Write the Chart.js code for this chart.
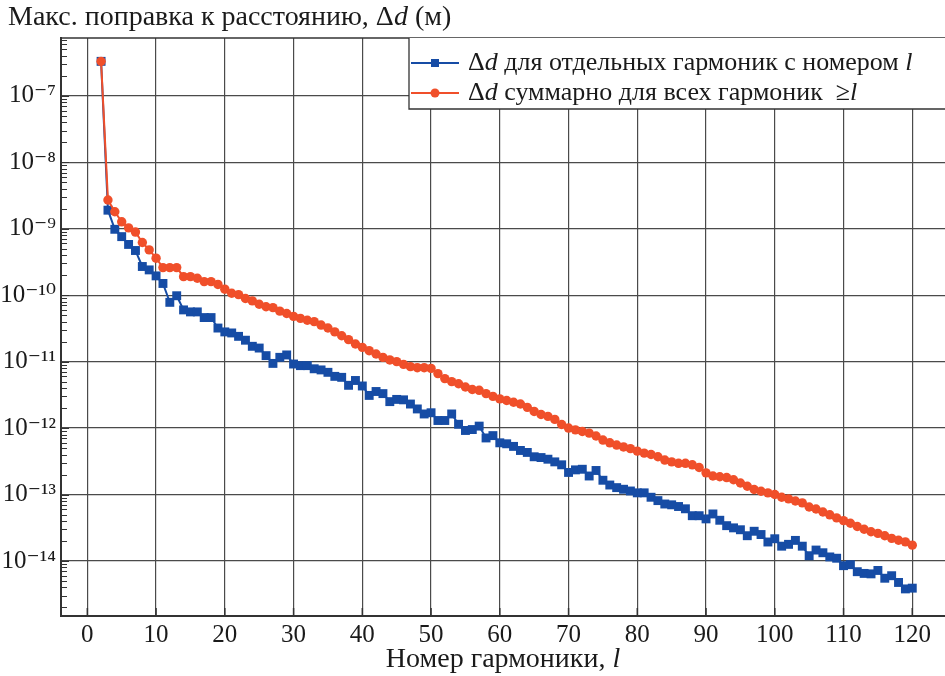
<!DOCTYPE html>
<html>
<head>
<meta charset="utf-8">
<script src="https://cdn.jsdelivr.net/npm/chart.js@4.4.1/dist/chart.umd.min.js"></script>
<style>
  html, body { margin: 0; padding: 0; background: #fff; overflow: hidden; }
  canvas { display: block; }
</style>
</head>
<body>
<canvas id="harmChart" width="945" height="676"></canvas>
<script>
// harmonic numbers l
const harmonics = [
  2, 3, 4, 5, 6, 7, 8, 9, 10, 11, 12, 13, 14, 15, 16, 17, 18, 19, 20,
  21, 22, 23, 24, 25, 26, 27, 28, 29, 30, 31, 32, 33, 34, 35, 36, 37, 38, 39, 40,
  41, 42, 43, 44, 45, 46, 47, 48, 49, 50, 51, 52, 53, 54, 55, 56, 57, 58, 59, 60,
  61, 62, 63, 64, 65, 66, 67, 68, 69, 70, 71, 72, 73, 74, 75, 76, 77, 78, 79, 80,
  81, 82, 83, 84, 85, 86, 87, 88, 89, 90, 91, 92, 93, 94, 95, 96, 97, 98, 99, 100,
  101, 102, 103, 104, 105, 106, 107, 108, 109, 110, 111, 112, 113, 114, 115, 116, 117, 118, 119, 120
];

// Δd for single harmonic l (m)
const singleValues = [
  3.3e-7, 1.9e-9, 9.8e-10, 7.6e-10, 5.8e-10, 4.7e-10, 2.7e-10, 2.4e-10, 1.95e-10,
  1.5e-10, 7.8e-11, 9.8e-11, 6.0e-11, 5.6e-11, 5.6e-11, 4.6e-11, 4.6e-11, 3.2e-11, 2.8e-11,
  2.7e-11, 2.4e-11, 2.1e-11, 1.7e-11, 1.6e-11, 1.23e-11, 9.4e-12, 1.16e-11, 1.26e-11, 9.2e-12,
  8.7e-12, 8.7e-12, 7.8e-12, 7.5e-12, 6.9e-12, 6.0e-12, 5.8e-12, 4.4e-12, 5.2e-12, 4.3e-12,
  3.1e-12, 3.55e-12, 3.3e-12, 2.5e-12, 2.7e-12, 2.66e-12, 2.3e-12, 1.94e-12, 1.63e-12, 1.7e-12,
  1.3e-12, 1.3e-12, 1.63e-12, 1.14e-12, 9.2e-13, 9.5e-13, 1.07e-12, 7.1e-13, 7.7e-13, 6.0e-13,
  5.8e-13, 5.3e-13, 4.6e-13, 4.3e-13, 3.7e-13, 3.6e-13, 3.4e-13, 3.1e-13, 2.8e-13, 2.15e-13,
  2.35e-13, 2.4e-13, 1.9e-13, 2.3e-13, 1.64e-13, 1.39e-13, 1.27e-13, 1.2e-13, 1.13e-13, 1.06e-13,
  1.06e-13, 9.1e-14, 8.1e-14, 7.2e-14, 7.0e-14, 6.6e-14, 6.1e-14, 4.8e-14, 4.8e-14, 4.3e-14,
  5.1e-14, 4.1e-14, 3.4e-14, 3.15e-14, 2.95e-14, 2.4e-14, 2.8e-14, 2.5e-14, 1.93e-14, 2.16e-14,
  1.67e-14, 1.78e-14, 2.04e-14, 1.67e-14, 1.2e-14, 1.46e-14, 1.33e-14, 1.15e-14, 1.1e-14, 8.5e-15,
  8.8e-15, 6.9e-15, 6.5e-15, 6.4e-15, 7.2e-15, 5.5e-15, 6.0e-15, 4.75e-15, 3.8e-15, 3.9e-15
];

// Δd summed over all harmonics >= l (m)
const sumValues = [
  3.3e-7, 2.7e-9, 1.8e-9, 1.27e-9, 1.03e-9, 8.9e-10, 6.2e-10, 4.8e-10, 3.6e-10,
  2.6e-10, 2.6e-10, 2.6e-10, 1.9e-10, 1.9e-10, 1.8e-10, 1.6e-10, 1.6e-10, 1.45e-10, 1.23e-10,
  1.07e-10, 1.02e-10, 8.9e-11, 8.2e-11, 7.3e-11, 6.7e-11, 6.5e-11, 5.75e-11, 5.3e-11, 4.8e-11,
  4.47e-11, 4.2e-11, 4.0e-11, 3.55e-11, 3.2e-11, 2.8e-11, 2.45e-11, 2.14e-11, 1.84e-11, 1.64e-11,
  1.46e-11, 1.3e-11, 1.16e-11, 1.06e-11, 1.0e-11, 9.1e-12, 8.4e-12, 8.1e-12, 8.1e-12, 7.9e-12,
  6.6e-12, 5.55e-12, 5.0e-12, 4.65e-12, 4.15e-12, 3.8e-12, 3.7e-12, 3.3e-12, 3.0e-12, 2.75e-12,
  2.6e-12, 2.45e-12, 2.3e-12, 2.05e-12, 1.78e-12, 1.6e-12, 1.5e-12, 1.35e-12, 1.13e-12, 1.0e-12,
  9.4e-13, 8.9e-13, 8.4e-13, 7.6e-13, 6.6e-13, 6.0e-13, 5.55e-13, 5.2e-13, 4.9e-13, 4.5e-13,
  4.2e-13, 4.0e-13, 3.7e-13, 3.3e-13, 3.1e-13, 2.95e-13, 2.95e-13, 2.8e-13, 2.55e-13, 2.12e-13,
  1.9e-13, 1.85e-13, 1.8e-13, 1.67e-13, 1.49e-13, 1.33e-13, 1.19e-13, 1.12e-13, 1.06e-13, 1.0e-13,
  9.1e-14, 8.6e-14, 8.0e-14, 7.5e-14, 6.5e-14, 6.05e-14, 5.45e-14, 4.95e-14, 4.45e-14, 4.05e-14,
  3.7e-14, 3.3e-14, 3.0e-14, 2.75e-14, 2.6e-14, 2.4e-14, 2.19e-14, 2.05e-14, 1.94e-14, 1.73e-14
];

const xTicks = [0, 10, 20, 30, 40, 50, 60, 70, 80, 90, 100, 110, 120];
const yTicks = [1e-14, 1e-13, 1e-12, 1e-11, 1e-10, 1e-9, 1e-8, 1e-7];

// text runs: [text, italic]
const titleRuns = [['Макс. поправка к расстоянию, Δ', false], ['d', true], [' (м)', false]];
const xTitleRuns = [['Номер гармоники, ', false], ['l', true]];
const singleLabel = [['Δ', false], ['d', true], [' для отдельных гармоник с номером ', false], ['l', true]];
const sumLabel = [['Δ', false], ['d', true], [' суммарно для всех гармоник  ≥', false], ['l', true]];

const BLUE = '#164ca5';
const RED = '#f04f2a';
const SERIF = '"Liberation Serif", "DejaVu Serif", serif';
const INK = '#1a1a1a';

const SUP = { '-': '⁻', '0': '⁰', '1': '¹', '2': '²', '3': '³', '4': '⁴', '5': '⁵', '6': '⁶', '7': '⁷', '8': '⁸', '9': '⁹' };
function powLabel(v) {
  const e = String(Math.round(Math.log10(v)));
  return '10' + e.split('').map(c => SUP[c]).join('');
}

function drawRuns(ctx, runs, x, y, size, align) {
  let total = 0;
  runs.forEach(r => {
    ctx.font = (r[1] ? 'italic ' : '') + size + 'px ' + SERIF;
    total += ctx.measureText(r[0]).width;
  });
  let cx = align === 'center' ? x - total / 2 : x;
  ctx.textBaseline = 'middle';
  ctx.textAlign = 'left';
  runs.forEach(r => {
    ctx.font = (r[1] ? 'italic ' : '') + size + 'px ' + SERIF;
    ctx.fillText(r[0], cx, y);
    cx += ctx.measureText(r[0]).width;
  });
}

const decorations = {
  id: 'decorations',
  afterDraw(chart) {
    const ctx = chart.ctx;
    const area = chart.chartArea;
    const ys = chart.scales.y;
    const xs = chart.scales.x;
    ctx.save();

    // top frame line
    ctx.strokeStyle = '#333';
    ctx.lineWidth = 1.5;
    ctx.beginPath();
    ctx.moveTo(area.left, area.top);
    ctx.lineTo(area.right, area.top);
    ctx.stroke();

    // minor log ticks on the left axis
    ctx.lineWidth = 1;
    ctx.strokeStyle = '#333';
    for (let e = -15; e <= -6; e++) {
      for (let k = 1; k <= 9; k++) {
        const v = k * Math.pow(10, e);
        if (v < ys.min || v > ys.max) continue;
        const py = Math.round(ys.getPixelForValue(v)) + 0.5;
        ctx.beginPath();
        ctx.moveTo(area.left, py);
        ctx.lineTo(area.left + (k === 1 ? 8 : 6), py);
        ctx.stroke();
      }
    }

    // major ticks on the bottom axis
    ctx.lineWidth = 1.5;
    xTicks.forEach(t => {
      const px = xs.getPixelForValue(t);
      ctx.beginPath();
      ctx.moveTo(px, area.bottom);
      ctx.lineTo(px, area.bottom - 8);
      ctx.stroke();
    });

    // title and x axis title
    ctx.fillStyle = INK;
    drawRuns(ctx, titleRuns, 8, 18, 28, 'left');
    drawRuns(ctx, xTitleRuns, (area.left + area.right) / 2, 660, 28, 'center');

    // legend box
    const lx = 409, ly = area.top, lh = 71;
    ctx.fillStyle = '#fff';
    ctx.fillRect(lx, ly, area.right - lx, lh);
    ctx.strokeStyle = '#333';
    ctx.lineWidth = 1.3;
    ctx.beginPath();
    ctx.moveTo(lx, ly);
    ctx.lineTo(lx, ly + lh);
    ctx.lineTo(area.right, ly + lh);
    ctx.stroke();

    const entries = [
      { ds: chart.data.datasets[1], runs: singleLabel, y: ly + 25 },
      { ds: chart.data.datasets[0], runs: sumLabel, y: ly + 55 }
    ];
    entries.forEach(en => {
      const ds = en.ds;
      ctx.strokeStyle = ds.borderColor;
      ctx.lineWidth = 2;
      ctx.beginPath();
      ctx.moveTo(lx + 2, en.y);
      ctx.lineTo(lx + 50, en.y);
      ctx.stroke();
      ctx.fillStyle = ds.pointBackgroundColor;
      const cx = lx + 26;
      if (ds.pointStyle === 'rect') {
        ctx.fillRect(cx - 4, en.y - 4, 8, 8);
      } else {
        ctx.beginPath();
        ctx.arc(cx, en.y, 4.5, 0, Math.PI * 2);
        ctx.fill();
      }
      ctx.fillStyle = INK;
      drawRuns(ctx, en.runs, lx + 59, en.y, 26, 'left');
    });

    ctx.restore();
  }
};

const ctx = document.getElementById('harmChart').getContext('2d');

const data = {
  datasets: [
    {
      label: 'Δd суммарно для всех гармоник ≥l',
      data: harmonics.map((l, i) => ({ x: l, y: sumValues[i] })),
      borderColor: RED,
      backgroundColor: RED,
      pointBackgroundColor: RED,
      pointBorderColor: RED,
      pointStyle: 'circle',
      pointRadius: 4.7,
      pointBorderWidth: 0,
      borderWidth: 2,
      tension: 0
    },
    {
      label: 'Δd для отдельных гармоник с номером l',
      data: harmonics.map((l, i) => ({ x: l, y: singleValues[i] })),
      borderColor: BLUE,
      backgroundColor: BLUE,
      pointBackgroundColor: BLUE,
      pointBorderColor: BLUE,
      pointStyle: 'rect',
      pointRadius: 6.3,
      pointBorderWidth: 0,
      borderWidth: 2,
      tension: 0
    }
  ]
};

const config = {
  type: 'line',
  data: data,
  options: {
    responsive: false,
    animation: false,
    layout: { autoPadding: false, padding: { top: 38, right: 0, left: 0, bottom: 0 } },
    plugins: {
      legend: { display: false },
      title: { display: false },
      tooltip: { enabled: false }
    },
    scales: {
      x: {
        type: 'linear',
        min: -3.83,
        max: 124.76,
        afterBuildTicks: scale => { scale.ticks = xTicks.map(v => ({ value: v })); },
        afterFit: scale => { scale.height = 60; },
        grid: { color: '#4a4a4a', lineWidth: 1.2, drawTicks: false },
        border: { color: '#333', width: 2 },
        ticks: {
          padding: 4,
          color: INK,
          font: { family: SERIF, size: 25 },
          maxRotation: 0,
          callback: v => String(v)
        }
      },
      y: {
        type: 'logarithmic',
        min: 1.486e-15,
        max: 7.41e-7,
        afterBuildTicks: scale => { scale.ticks = yTicks.map(v => ({ value: v })); },
        afterFit: scale => { scale.width = 61; },
        grid: { color: '#4a4a4a', lineWidth: 1.2, drawTicks: false },
        border: { color: '#333', width: 2 },
        ticks: {
          padding: 5,
          color: INK,
          font: { family: SERIF, size: 25 },
          callback: v => powLabel(v)
        }
      }
    }
  },
  plugins: [decorations]
};

new Chart(ctx, config);
</script>
</body>
</html>
